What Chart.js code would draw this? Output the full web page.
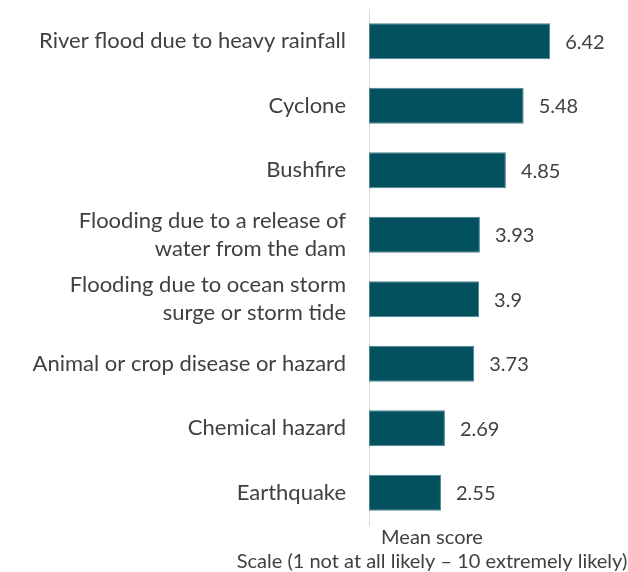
<!DOCTYPE html>
<html>
<head>
<meta charset="utf-8">
<script src="https://cdn.jsdelivr.net/npm/chart.js@4"></script>
<style>
  html, body { margin: 0; padding: 0; background: #fff; }
  #box { width: 628px; height: 572px; }
</style>
</head>
<body>
<div id="box"><canvas id="hazardChart"></canvas></div>
<script>
let hazards = [
    "River flood due to heavy rainfall",
    "Cyclone",
    "Bushfire",
    ["Flooding due to a release of", "water from the dam"],
    ["Flooding due to ocean storm", "surge or storm tide"],
    "Animal or crop disease or hazard",
    "Chemical hazard",
    "Earthquake",
  ],
  meanScores = [6.42, 5.48, 4.85, 3.93, 3.9, 3.73, 2.69, 2.55],
  axisCaption = ["Mean score", "Scale (1 not at all likely \u2013 10 extremely likely)"];

let fontFamily = "Lato, 'Open Sans', sans-serif",
  textColor = "#404040";

// writes the score just past the end of each bar
let valueLabels = {
  id: "valueLabels",
  afterDatasetsDraw: (chart) => {
    let ctx = chart.ctx;
    let meta = chart.getDatasetMeta(0);
    ctx.save();
    ctx.font = "20px " + fontFamily;
    ctx.fillStyle = textColor;
    ctx.textAlign = "left";
    ctx.textBaseline = "middle";
    meta.data.forEach((bar, i) => {
      ctx.fillText(String(meanScores[i]), bar.x + 15, bar.y + 1);
    });
    ctx.restore();
  },
};

// two line caption under the value axis
let axisCaptionPlugin = {
  id: "axisCaption",
  afterDraw: (chart) => {
    let ctx = chart.ctx;
    let x = chart.chartArea.left + 63;
    ctx.save();
    ctx.font = "20px " + fontFamily;
    ctx.fillStyle = textColor;
    ctx.textAlign = "center";
    ctx.textBaseline = "middle";
    ctx.fillText(axisCaption[0], x, chart.chartArea.bottom + 13);
    ctx.fillText(axisCaption[1], x, chart.chartArea.bottom + 37);
    ctx.restore();
  },
};

new Chart(document.getElementById("hazardChart"), {
  type: "bar",
  data: {
    labels: hazards,
    datasets: [
      {
        data: meanScores,
        backgroundColor: "#03505f",
        borderColor: "#4d8590",
        borderWidth: 1,
        borderSkipped: false,
        categoryPercentage: 1,
        barPercentage: 0.56,
      },
    ],
  },
  plugins: [valueLabels, axisCaptionPlugin],
  options: {
    indexAxis: "y",
    responsive: true,
    maintainAspectRatio: false,
    animation: false,
    layout: { padding: { top: 9, bottom: 47, right: 5, left: 0 } },
    plugins: {
      legend: { display: false },
      tooltip: { enabled: false },
    },
    scales: {
      x: {
        display: false,
        min: 0,
        max: 9,
      },
      y: {
        grid: { display: false },
        border: { display: true, color: "#d9d9d9", width: 1 },
        afterFit: (scale) => {
          scale.width = 369;
          scale.paddingTop = 0;
          scale.paddingBottom = 0;
        },
        ticks: {
          padding: 15,
          color: textColor,
          font: { family: fontFamily, size: 22, lineHeight: 1.27 },
        },
      },
    },
  },
});
</script>
</body>
</html>
